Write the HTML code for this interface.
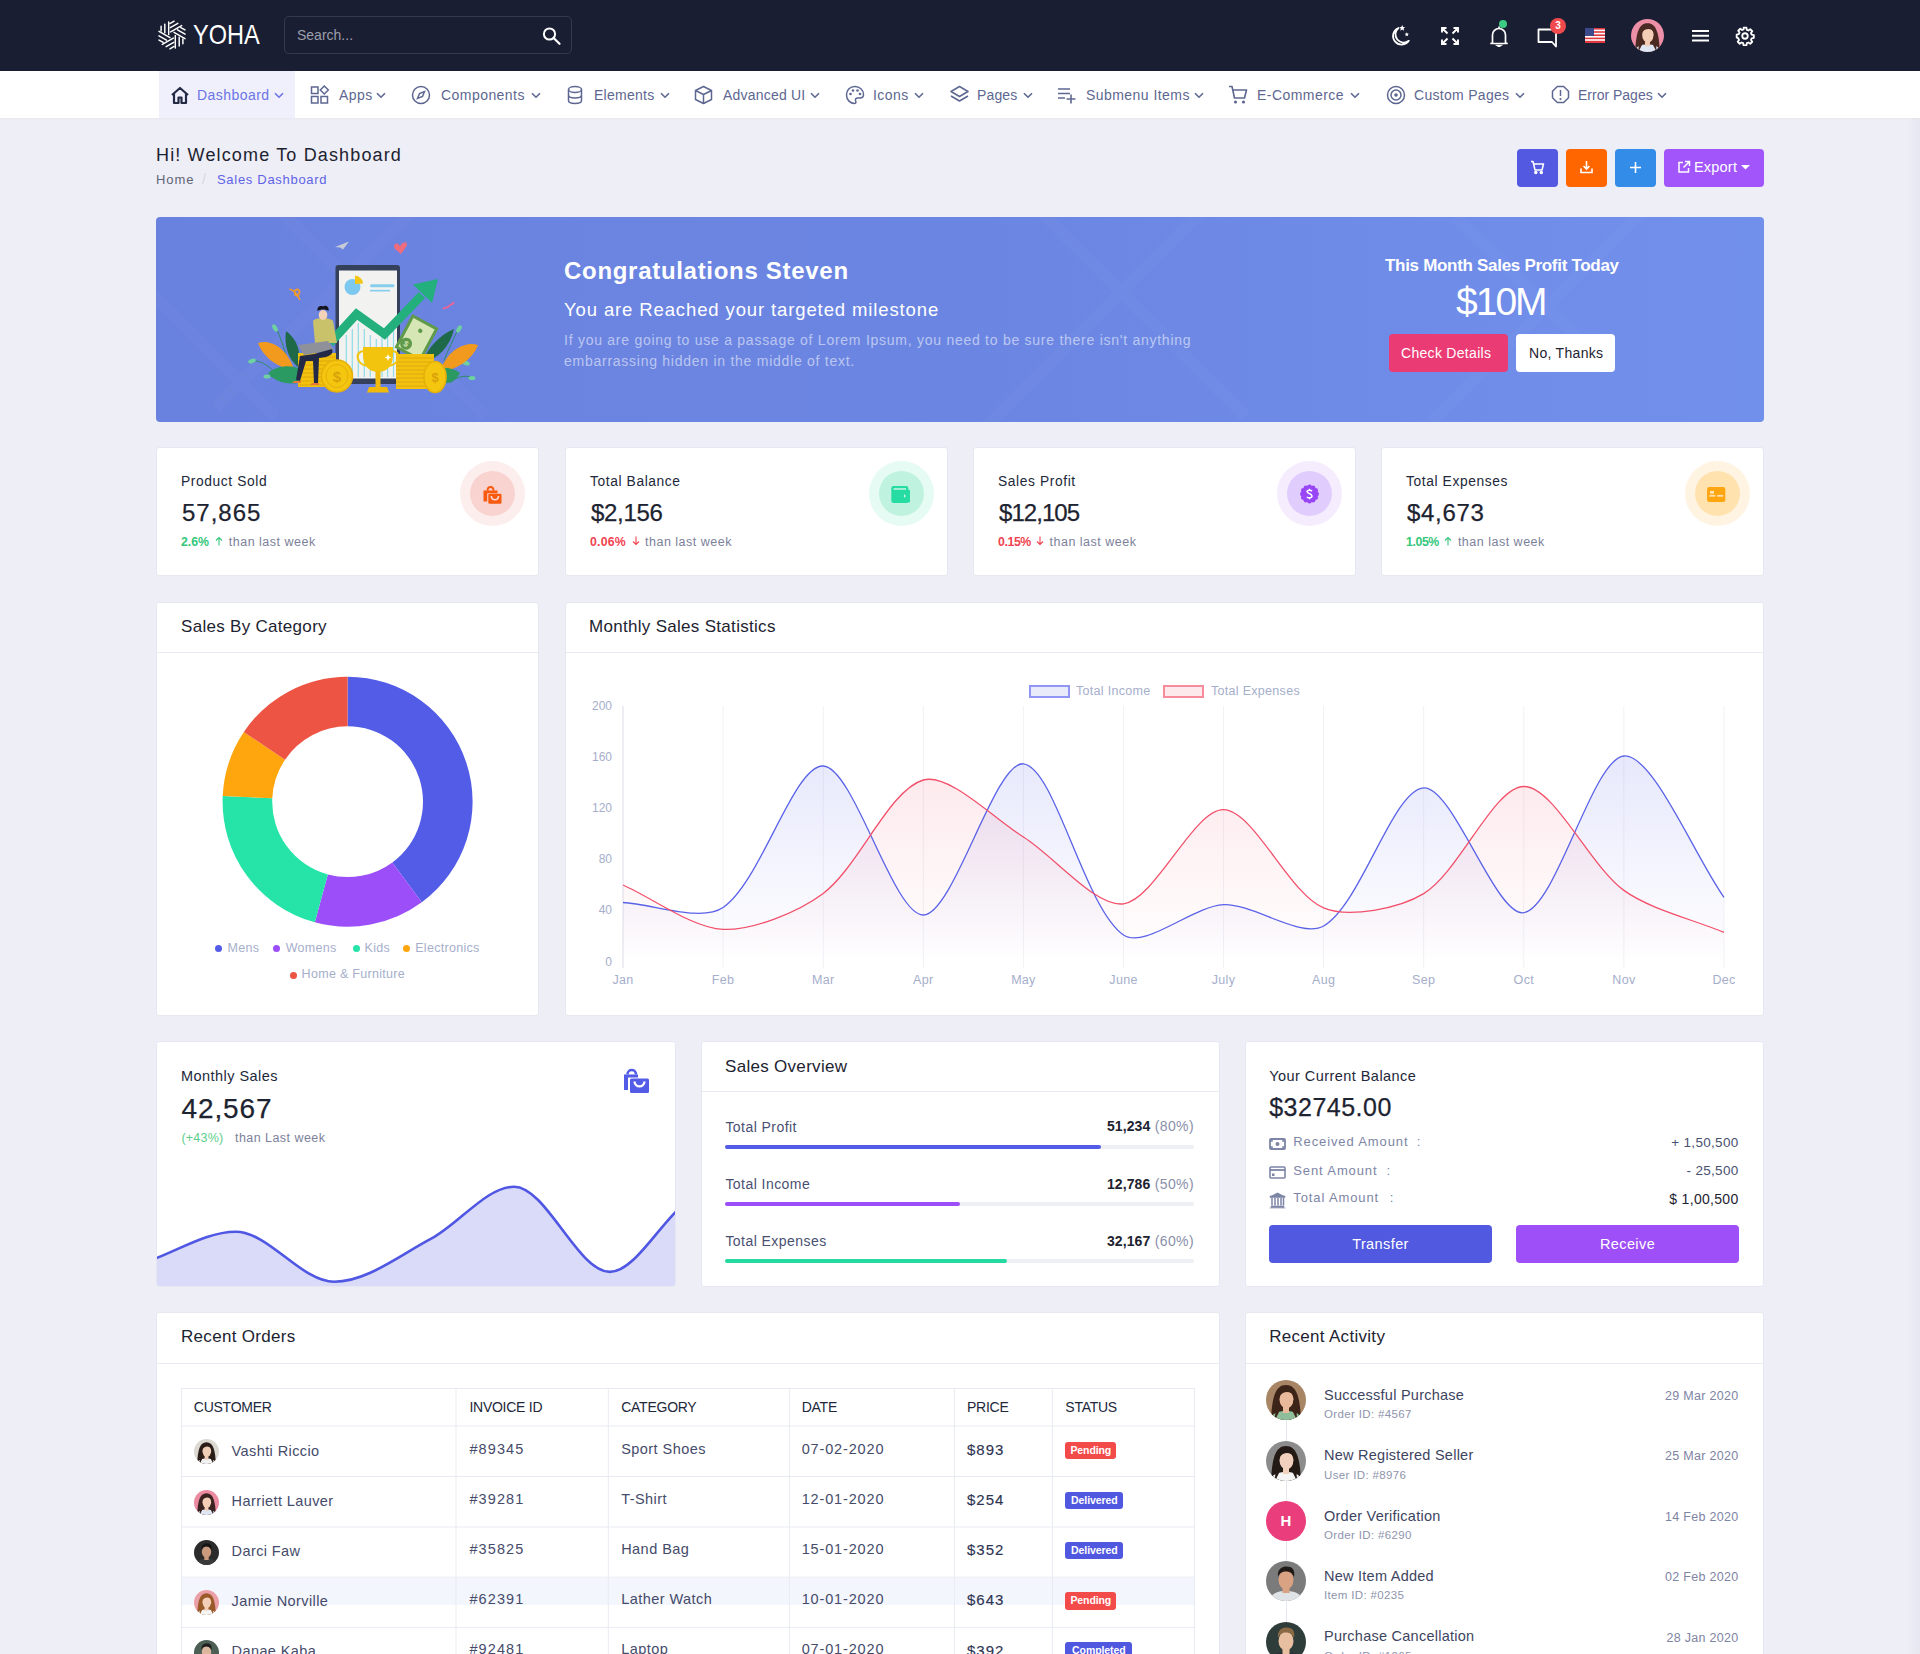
<!DOCTYPE html>
<html><head><meta charset="utf-8">
<style>
*{box-sizing:border-box;margin:0;padding:0}
html,body{width:1920px;height:1654px;overflow:hidden}
body{background:#eeeef6;font-family:"Liberation Sans",sans-serif;color:#1d2330;position:relative}
.abs{position:absolute}
.hdr{position:absolute;left:0;top:0;width:1920px;height:71px;background:#1a1e32}
.nav{position:absolute;left:0;top:71px;width:1920px;height:47px;background:#fff;box-shadow:0 1px 2px rgba(0,0,0,0.03)}
.card{position:absolute;background:#fff;border:1px solid #e6e7f0;border-radius:3px}
.ch{position:absolute;left:0;top:0;right:0;height:50px;border-bottom:1px solid #e9eaf2}
.ct{position:absolute;left:24px;top:16px;font-size:16.5px;color:#1d2330;letter-spacing:0.2px}
.t{position:absolute;white-space:nowrap}
.nt{font-size:14px;line-height:16px;letter-spacing:0.45px}
</style></head><body>
<!-- HEADER -->

<div class="hdr" id="hdr">
 <svg class="abs" style="left:156.4px;top:18.9px" width="32" height="32" viewBox="-16 -16 32 32">
  <g fill="none" stroke="#fff" stroke-width="1.45" stroke-linecap="round">
   <g id="pt"><path d="M-10.9 -8.7 V-3.9 M-7.2 -10.9 V-2.2 M-3.3 -13.1 V-0.4"/></g>
   <use href="#pt" transform="rotate(60)"/><use href="#pt" transform="rotate(120)"/>
   <use href="#pt" transform="rotate(180)"/><use href="#pt" transform="rotate(240)"/><use href="#pt" transform="rotate(300)"/>
  </g>
 </svg>
 <div class="t" id="logo" style="left:193px;top:18px;font-size:28px;color:#fff;letter-spacing:0px;line-height:34px;transform:scaleX(0.84);transform-origin:0 0">YOHA</div>
 <div class="abs" style="left:284px;top:16px;width:288px;height:38px;border:1px solid rgba(255,255,255,0.12);border-radius:5px"></div>
 <div class="t" id="srch" style="left:297px;top:27px;font-size:14px;color:#9c9eab;line-height:16px">Search...</div>
 <svg class="abs" style="left:542px;top:27px" width="20" height="18" viewBox="0 0 20 18"><circle cx="7.5" cy="7" r="5.6" fill="none" stroke="#fff" stroke-width="2"/><path d="M11.6 11 L17.5 16.8" stroke="#fff" stroke-width="2.2" stroke-linecap="round"/></svg>
 <!-- right icons -->
 <svg class="abs" style="left:1389px;top:24px" width="24" height="24" viewBox="0 0 24 24" fill="none" stroke="#fff" stroke-width="1.8"><path d="M9.5 4 A8.6 8.6 0 1 0 19.8 16.8 A8 8 0 0 1 9.5 4 Z" stroke-linejoin="round"/><path d="M13.2 1 l0.9 2 2.1 0.2 -1.6 1.4 0.5 2.1 -1.9 -1.1 -1.9 1.1 0.5 -2.1 -1.6 -1.4 2.1 -0.2z" fill="#fff" stroke="none"/><path d="M17.8 8.2 l0.6 1.4 1.5 0.1 -1.1 1 0.35 1.5 -1.35 -0.8 -1.35 0.8 0.35 -1.5 -1.1 -1 1.5 -0.1z" fill="#fff" stroke="none"/></svg>
 <svg class="abs" style="left:1440.5px;top:26.5px" width="18" height="18" viewBox="0 0 18 18" fill="none" stroke="#fff" stroke-width="1.9"><path d="M1 5.5 V1 H5.5 M1 1 L6.5 6.5 M12.5 1 H17 V5.5 M17 1 L11.5 6.5 M1 12.5 V17 H5.5 M1 17 L6.5 11.5 M17 12.5 V17 H12.5 M17 17 L11.5 11.5"/></svg>
 <svg class="abs" style="left:1489.5px;top:25px" width="18" height="22" viewBox="0 0 18 22" fill="none" stroke="#fff" stroke-width="1.7"><path d="M2.5 17.5 V10 A6.5 6.5 0 0 1 15.5 10 V17.5 L17 18.5 H1 Z" stroke-linejoin="round"/><path d="M7.5 20.5 L9 21.5 L10.5 20.5Z" fill="#fff"/><path d="M9 3 V1.5"/></svg>
 <div class="abs" style="left:1499px;top:19.5px;width:8px;height:8px;border-radius:50%;background:#3dca82"></div>
 <svg class="abs" style="left:1537px;top:27.5px" width="21" height="20" viewBox="0 0 21 20" fill="none" stroke="#fff" stroke-width="1.8"><path d="M1.5 1.5 H19 V18.5 L15 14 H1.5 Z" stroke-linejoin="round"/></svg>
 <div class="abs" style="left:1550px;top:17.5px;width:16px;height:16px;border-radius:50%;background:#f04a4e;color:#fff;font-size:10px;line-height:16px;text-align:center;font-weight:bold">3</div>
 <svg class="abs" style="left:1585px;top:28px" width="20" height="15" viewBox="0 0 20 15">
  <rect width="20" height="15" fill="#fff"/>
  <g fill="#e0383e"><rect y="0" width="20" height="1.6"/><rect y="3.2" width="20" height="1.6"/><rect y="6.4" width="20" height="1.6"/><rect y="9.6" width="20" height="1.6"/><rect y="12.8" width="20" height="2.2"/></g>
  <rect width="9" height="8" fill="#3c4a8c"/>
 </svg>
 <svg class="abs" style="left:1630.5px;top:19.0px" width="33" height="33" viewBox="0 0 40 40"><defs><clipPath id="av"><circle cx="20" cy="20" r="20"/></clipPath></defs><g clip-path="url(#av)"><rect width="40" height="40" fill="#ee8fa8"/><path d="M5 40 C6 18 9 5 20 5 C31 5 34 18 35 40Z" fill="#4a2a22"/><path d="M4 40 C6 33 12 31 20 31 C28 31 34 33 36 40Z" fill="#dfe7f5"/><rect x="17" y="26" width="6" height="7" fill="#f3cdb5"/><ellipse cx="20.5" cy="19.5" rx="7" ry="9" fill="#f3cdb5"/><path d="M12.5 17 C13 9 18 8 21 8 C26 8 29 11 28.5 17 C26 12 21 11 17 13 C15 14 13.5 16 12.5 17Z" fill="#4a2a22"/><path d="M9 40 C9 30 11 24 13 20 L14 30Z M31 40 C31 30 29 24 27.5 20 L26 30Z" fill="#4a2a22"/></g></svg>
 <svg class="abs" style="left:1692px;top:29.8px" width="17" height="12.5" viewBox="0 0 17 12.5" stroke="#fff" stroke-width="2"><path d="M0 1 H17 M0 5.7 H17 M0 10.4 H17"/></svg>
 <svg class="abs" style="left:1735px;top:25.5px" width="20" height="20" viewBox="0 0 24 24" fill="none" stroke="#fff" stroke-width="2.2"><path d="M10.3 2h3.4l.5 2.6 1.9.8 2.2-1.5 2.4 2.4-1.5 2.2.8 1.9 2.6.5v3.4l-2.6.5-.8 1.9 1.5 2.2-2.4 2.4-2.2-1.5-1.9.8-.5 2.6h-3.4l-.5-2.6-1.9-.8-2.2 1.5-2.4-2.4 1.5-2.2-.8-1.9L2 13.7v-3.4l2.6-.5.8-1.9-1.5-2.2 2.4-2.4 2.2 1.5 1.9-.8z" stroke-linejoin="round"/><circle cx="12" cy="12" r="3.3"/></svg>
</div>

<div class="nav" id="nav"></div>
<div class="abs" style="left:159px;top:71px;width:136px;height:47px;background:#eff0fb"></div>
<svg class="abs" style="left:169px;top:85px" width="21" height="21" viewBox="0 0 21 21"><path d="M3 10 L11 3 L19 10 M5 8.5 V18 H9.5 V12.5 H12.5 V18 H17 V8.5" fill="none" stroke="#232a45" stroke-width="2.2" stroke-linejoin="round"/></svg>
<div class="t nt" style="left:197px;top:87px;color:#6c74e6">Dashboard</div>
<svg class="abs" style="left:274px;top:92px" width="10" height="7" viewBox="0 0 10 7"><path d="M1 1.2 L5 5.2 L9 1.2" fill="none" stroke="#6c74e6" stroke-width="1.6"/></svg>
<svg class="abs" style="left:310px;top:85px" width="21" height="21" viewBox="0 0 21 21"><g fill="none" stroke="#5d6791" stroke-width="1.5"><rect x="1.5" y="2" width="6.5" height="6.5"/><rect x="1.5" y="11.5" width="6.5" height="6.5"/><rect x="11" y="11.5" width="6.5" height="6.5"/><path d="M14.3 1 L18.3 5 L14.3 9 L10.3 5Z"/></g></svg>
<div class="t nt" style="left:339px;top:87px;color:#5d6791">Apps</div>
<svg class="abs" style="left:376px;top:92px" width="10" height="7" viewBox="0 0 10 7"><path d="M1 1.2 L5 5.2 L9 1.2" fill="none" stroke="#5d6791" stroke-width="1.6"/></svg>
<svg class="abs" style="left:411px;top:85px" width="21" height="21" viewBox="0 0 21 21"><g fill="none" stroke="#5d6791" stroke-width="1.5"><circle cx="10" cy="10" r="8.5"/><path d="M13.5 6.5 L11.5 11.5 L6.5 13.5 L8.5 8.5Z"/></g></svg>
<div class="t nt" style="left:441px;top:87px;color:#5d6791">Components</div>
<svg class="abs" style="left:531px;top:92px" width="10" height="7" viewBox="0 0 10 7"><path d="M1 1.2 L5 5.2 L9 1.2" fill="none" stroke="#5d6791" stroke-width="1.6"/></svg>
<svg class="abs" style="left:566px;top:85px" width="21" height="21" viewBox="0 0 21 21"><g fill="none" stroke="#5d6791" stroke-width="1.5"><ellipse cx="9" cy="4.5" rx="6.5" ry="3"/><path d="M2.5 4.5 V15.5 C2.5 19.5 15.5 19.5 15.5 15.5 V4.5 M2.5 10 C2.5 14 15.5 14 15.5 10"/></g></svg>
<div class="t nt" style="left:594px;top:87px;color:#5d6791;letter-spacing:0.27px">Elements</div>
<svg class="abs" style="left:660px;top:92px" width="10" height="7" viewBox="0 0 10 7"><path d="M1 1.2 L5 5.2 L9 1.2" fill="none" stroke="#5d6791" stroke-width="1.6"/></svg>
<svg class="abs" style="left:694px;top:85px" width="21" height="21" viewBox="0 0 21 21"><g fill="none" stroke="#5d6791" stroke-width="1.5" stroke-linejoin="round"><path d="M9.5 1.5 L17.5 5.5 V14.5 L9.5 18.5 L1.5 14.5 V5.5Z M1.5 5.5 L9.5 9.5 L17.5 5.5 M9.5 9.5 V18.5"/></g></svg>
<div class="t nt" style="left:723px;top:87px;color:#5d6791;letter-spacing:0.2px">Advanced UI</div>
<svg class="abs" style="left:810px;top:92px" width="10" height="7" viewBox="0 0 10 7"><path d="M1 1.2 L5 5.2 L9 1.2" fill="none" stroke="#5d6791" stroke-width="1.6"/></svg>
<svg class="abs" style="left:845px;top:85px" width="21" height="21" viewBox="0 0 21 21"><g fill="none" stroke="#5d6791" stroke-width="1.5"><path d="M10 1.5 C4.5 1.5 1.5 5.5 1.5 10 C1.5 15 5.5 18.5 9.5 18.5 C11.5 18.5 11 16.5 10.5 15.5 C10 14 11 13 12.5 13 H15 C17 13 18.5 11.5 18.5 9.5 C18.5 5 14.5 1.5 10 1.5Z"/></g><g fill="#5d6791"><circle cx="5.5" cy="9" r="1.3"/><circle cx="8" cy="5.5" r="1.3"/><circle cx="12.5" cy="5.5" r="1.3"/><circle cx="15" cy="9" r="1.3"/></g></svg>
<div class="t nt" style="left:873px;top:87px;color:#5d6791">Icons</div>
<svg class="abs" style="left:914px;top:92px" width="10" height="7" viewBox="0 0 10 7"><path d="M1 1.2 L5 5.2 L9 1.2" fill="none" stroke="#5d6791" stroke-width="1.6"/></svg>
<svg class="abs" style="left:950px;top:85px" width="21" height="21" viewBox="0 0 21 21"><g fill="none" stroke="#5d6791" stroke-width="1.5" stroke-linejoin="round"><path d="M9.5 1.5 L18 6.5 L9.5 11.5 L1 6.5Z M1 11 L9.5 16 L18 11"/></g></svg>
<div class="t nt" style="left:977px;top:87px;color:#5d6791;letter-spacing:0.15px">Pages</div>
<svg class="abs" style="left:1023px;top:92px" width="10" height="7" viewBox="0 0 10 7"><path d="M1 1.2 L5 5.2 L9 1.2" fill="none" stroke="#5d6791" stroke-width="1.6"/></svg>
<svg class="abs" style="left:1057px;top:85px" width="21" height="21" viewBox="0 0 21 21"><g fill="none" stroke="#5d6791" stroke-width="1.6"><path d="M1 4 H13 M1 8.5 H13 M1 13 H8 M14 9.5 V18.5 M9.5 14 H18.5"/></g></svg>
<div class="t nt" style="left:1086px;top:87px;color:#5d6791">Submenu Items</div>
<svg class="abs" style="left:1194px;top:92px" width="10" height="7" viewBox="0 0 10 7"><path d="M1 1.2 L5 5.2 L9 1.2" fill="none" stroke="#5d6791" stroke-width="1.6"/></svg>
<svg class="abs" style="left:1228px;top:85px" width="21" height="21" viewBox="0 0 21 21"><g fill="none" stroke="#5d6791" stroke-width="1.6" stroke-linejoin="round"><path d="M1 1.5 H4 L6.5 13 H16.5 L18.5 5 H5"/></g><g fill="#5d6791"><circle cx="7.5" cy="17" r="1.6"/><circle cx="15.5" cy="17" r="1.6"/></g></svg>
<div class="t nt" style="left:1257px;top:87px;color:#5d6791">E-Commerce</div>
<svg class="abs" style="left:1350px;top:92px" width="10" height="7" viewBox="0 0 10 7"><path d="M1 1.2 L5 5.2 L9 1.2" fill="none" stroke="#5d6791" stroke-width="1.6"/></svg>
<svg class="abs" style="left:1386px;top:85px" width="21" height="21" viewBox="0 0 21 21"><g fill="none" stroke="#5d6791" stroke-width="1.5"><circle cx="10" cy="10" r="8.5"/><circle cx="10" cy="10" r="5"/></g><circle cx="10" cy="10" r="1.8" fill="#5d6791"/></svg>
<div class="t nt" style="left:1414px;top:87px;color:#5d6791;letter-spacing:0.3px">Custom Pages</div>
<svg class="abs" style="left:1515px;top:92px" width="10" height="7" viewBox="0 0 10 7"><path d="M1 1.2 L5 5.2 L9 1.2" fill="none" stroke="#5d6791" stroke-width="1.6"/></svg>
<svg class="abs" style="left:1551px;top:85px" width="21" height="21" viewBox="0 0 21 21"><g fill="none" stroke="#5d6791" stroke-width="1.5" stroke-linejoin="round"><path d="M6.3 1.5 H12.7 L17.5 6.3 V12.7 L12.7 17.5 H6.3 L1.5 12.7 V6.3Z"/><path d="M9.5 5 V11"/></g><circle cx="9.5" cy="14" r="1.1" fill="#5d6791"/></svg>
<div class="t nt" style="left:1578px;top:87px;color:#5d6791;letter-spacing:0.0px">Error Pages</div>
<svg class="abs" style="left:1657px;top:92px" width="10" height="7" viewBox="0 0 10 7"><path d="M1 1.2 L5 5.2 L9 1.2" fill="none" stroke="#5d6791" stroke-width="1.6"/></svg>

<!-- PAGE HEADER -->
<div class="t" id="ptitle" style="left:156px;top:145px;font-size:18px;line-height:21px;color:#1d2330;letter-spacing:1.15px">Hi! Welcome To Dashboard</div>
<div class="t" style="left:156px;top:172px;font-size:13px;line-height:15px;color:#5f6478;letter-spacing:0.95px">Home</div>
<div class="t" style="left:202px;top:171px;font-size:14px;line-height:16px;color:#d6d8e2">/</div>
<div class="t" style="left:217px;top:172px;font-size:13px;line-height:15px;color:#5f63e6;letter-spacing:0.7px">Sales Dashboard</div>
<div class="abs" style="left:1517px;top:149px;width:41px;height:38px;background:#5359e0;border-radius:4px"></div>
<svg class="abs" style="left:1530px;top:160px" width="15" height="15" viewBox="0 0 15 15" fill="none" stroke="#fff" stroke-width="1.5" stroke-linejoin="round"><path d="M1 1.5 H3 L5 10 H12 L13.5 4 H4"/><circle cx="5.8" cy="12.5" r="1" fill="#fff"/><circle cx="11.3" cy="12.5" r="1" fill="#fff"/></svg>
<div class="abs" style="left:1566px;top:149px;width:41px;height:38px;background:#ff6600;border-radius:4px"></div>
<svg class="abs" style="left:1579px;top:160px" width="15" height="15" viewBox="0 0 15 15" fill="none" stroke="#fff" stroke-width="1.6"><path d="M7.5 1 V8.5 M4.5 6 L7.5 9 L10.5 6 M2 8.5 V12.5 H13 V8.5"/></svg>
<div class="abs" style="left:1615px;top:149px;width:41px;height:38px;background:#328ce8;border-radius:4px"></div>
<svg class="abs" style="left:1629px;top:161px" width="13" height="13" viewBox="0 0 13 13" stroke="#fff" stroke-width="1.6"><path d="M6.5 1 V12 M1 6.5 H12"/></svg>
<div class="abs" style="left:1664px;top:149px;width:100px;height:38px;background:#a155fb;border-radius:4px"></div>
<svg class="abs" style="left:1677px;top:160px" width="14" height="14" viewBox="0 0 14 14" fill="none" stroke="#fff" stroke-width="1.5"><path d="M6 2.5 H2 V12 H11.5 V8 M8 1.5 H12.5 V6 M12.5 1.5 L6.5 7.5"/></svg>
<div class="t" style="left:1694px;top:159px;font-size:14.5px;line-height:17px;color:#fff;letter-spacing:0.2px">Export</div>
<svg class="abs" style="left:1741px;top:165px" width="9" height="5" viewBox="0 0 9 5"><path d="M0 0 H9 L4.5 4.5Z" fill="#fff"/></svg>


<!-- BANNER -->
<div class="abs" style="left:156px;top:217px;width:1608px;height:205px;border-radius:4px;overflow:hidden;background:linear-gradient(90deg,#6a82df 0%,#6b86e2 50%,#7190ec 100%)">
 <svg class="abs" style="left:0;top:0" width="1608" height="205">
  <g stroke="rgba(255,255,255,0.025)" stroke-width="12" fill="none">
   <path d="M-40 40 L120 200 M120 -10 L330 200 M270 -20 L60 190 M880 -10 L1090 200 M1050 -10 L780 260 M1300 0 L1450 150 M1500 -20 L1260 220"/>
  </g>
 </svg>
 <!-- illustration -->
 <svg class="abs" style="left:86px;top:20px" width="250" height="180" viewBox="0 0 250 180">
  <path d="M93 10 L107 4.5 L101 12.5 L98 10.5 Z" fill="#c7cbd6"/>
  <path d="M158 9 C155 4 150 7 153 12 L159 17 L164 10 C167 5 162 3 158 9Z" fill="#ef6b7e"/>
  <path d="M47.5 52 C51 53 55 56 58 63 M52 55 C54 51 59 52 57 57 C55 60 52 58 53 56" stroke="#f2982f" stroke-width="1.8" fill="none"/>
  <path d="M201 72 C204 69 205 72 207 69 C209 66 210 69 212 65" stroke="#e9659a" stroke-width="1.8" fill="none"/>
  <!-- sprouts -->
  <path d="M8 124 C18 122 30 130 38 142 M34 90 C38 100 42 110 45 122 M24 140 C30 138 38 140 44 146" stroke="#2f8a6a" stroke-width="1" fill="none"/>
  <ellipse cx="10" cy="124" rx="4" ry="2.2" fill="#6fd0a0" transform="rotate(-20 10 124)"/>
  <ellipse cx="33" cy="91" rx="2.2" ry="4" fill="#6fd0a0" transform="rotate(-30 33 91)"/>
  <ellipse cx="25" cy="139.5" rx="3.5" ry="2" fill="#6fd0a0"/>
  <path d="M222 126 C212 124 202 132 196 140 M216 92 C212 102 206 112 202 124 M230 140 C222 138 214 140 208 146" stroke="#2f8a6a" stroke-width="1" fill="none"/>
  <ellipse cx="224" cy="126" rx="4" ry="2.2" fill="#6fd0a0" transform="rotate(20 224 126)"/>
  <ellipse cx="217" cy="92" rx="2.2" ry="4" fill="#6fd0a0" transform="rotate(30 217 92)"/>
  <ellipse cx="230" cy="141" rx="3.5" ry="2" fill="#6fd0a0"/>
  <!-- leaves -->
  <path d="M16 106 C28 102 44 110 52 132 C38 132 22 122 16 106Z" fill="#f19a1e"/>
  <path d="M44 94 C55 102 60 115 56 130 C46 122 42 108 44 94Z" fill="#1e6a48"/>
  <path d="M26 136 C36 128 50 128 58 132 L56 146 C44 148 32 144 26 136Z" fill="#2b9a62"/>
  <path d="M236 108 C224 104 206 112 198 134 C212 134 230 124 236 108Z" fill="#f19a1e"/>
  <path d="M212 92 C198 98 186 110 180 126 C196 122 208 110 212 92Z" fill="#1e6a48"/>
  <path d="M218 136 C210 130 200 130 194 132 L196 146 C206 148 214 144 218 136Z" fill="#2b9a62"/>
  <!-- phone -->
  <rect x="93.5" y="28" width="64.5" height="119" rx="3" fill="#35405a"/>
  <rect x="97" y="33.5" width="58" height="108" fill="#f2f3f1"/>
  <circle cx="110.5" cy="50" r="8" fill="#7cc8ee"/>
  <path d="M113 47 V38.5 A8.5 8.5 0 0 1 121 46.5Z" fill="#f3c514"/>
  <rect x="128" y="47.3" width="24.5" height="3" rx="1.5" fill="#86cdee"/><rect x="128" y="52.8" width="20" height="1.7" fill="#86cdee"/>
  <g stroke="#8fdbe6" stroke-width="1.2"><path d="M104.3 140 V98 M110.3 140 V92 M116.3 140 V86 M122.3 140 V92 M128.3 140 V98 M134.3 140 V102 M140 140 V96 M145.6 140 V90 M151.5 140 V84"/></g>
  <!-- arrow -->
  <path d="M88 106 L114.5 77 L142.5 97 L180 58" stroke="#23b07d" stroke-width="8.8" fill="none" stroke-linejoin="miter" stroke-miterlimit="10"/>
  <path d="M171 47.5 L196 42 L190 66 Z" fill="#23b07d"/>
  <!-- bill -->
  <g transform="rotate(28 175 100)"><rect x="160" y="82" width="30" height="38" rx="1" fill="#5e9a4a"/><rect x="163" y="85" width="24" height="32" fill="#d6e6b4"/><circle cx="175" cy="93" r="2.2" fill="#5e9a4a"/><circle cx="168.5" cy="111" r="6" fill="#5e9a4a"/><text x="168.5" y="114" font-size="8" text-anchor="middle" fill="#d6e6b4" font-family="Liberation Sans" font-weight="bold">$</text></g>
  <!-- coins left -->
  <path d="M56 116 H94 V150 H56Z" fill="#f2c20f"/>
  <g stroke="#dba50b" stroke-width="0.9"><path d="M56 120 H94 M56 124 H94 M56 128 H94 M56 132 H94 M56 136 H94 M56 140 H94 M56 144 H94 M56 148 H94"/></g>
  <ellipse cx="95" cy="139" rx="15.5" ry="16" fill="#f5c60f" stroke="#e5b00a" stroke-width="1.6"/>
  <ellipse cx="95" cy="139" rx="11" ry="11.5" fill="none" stroke="#e5b00a" stroke-width="1"/>
  <text x="95" y="144.5" font-size="15" text-anchor="middle" fill="#d9a20a" font-family="Liberation Sans" font-weight="bold">$</text>
  <!-- coins right -->
  <path d="M154 117 H192 V152 H154Z" fill="#f2c20f"/>
  <g stroke="#dba50b" stroke-width="0.9"><path d="M154 121 H192 M154 125 H192 M154 129 H192 M154 133 H192 M154 137 H192 M154 141 H192 M154 145 H192 M154 149 H192"/></g>
  <ellipse cx="193" cy="140" rx="11" ry="15.5" fill="#f5c60f" stroke="#e5b00a" stroke-width="1.6"/>
  <text x="193" y="145" font-size="13" text-anchor="middle" fill="#d9a20a" font-family="Liberation Sans" font-weight="bold">$</text>
  <!-- trophy -->
  <path d="M121 110 H151 V118 C151 130 144 135 136 135 C128 135 121 130 121 118Z" fill="#f3c40e"/>
  <path d="M122 114 C112 114 114 128 126 129 M150 114 C160 114 158 128 146 129" stroke="#f3c40e" stroke-width="2.2" fill="none"/>
  <rect x="133.5" y="134" width="5" height="16" fill="#f0b90b"/><path d="M127 150 H145 L147 155.5 H125Z" fill="#f0b90b"/>
  <path d="M146 117 l1 2.5 2.5 1 -2.5 1 -1 2.5 -1 -2.5 -2.5 -1 2.5 -1z" fill="#fff"/>
  <!-- person -->
  <path d="M71 84 C73 80 88 80 91 84 L95 106 H73Z" fill="#c9c26a"/>
  <ellipse cx="81" cy="78" rx="4.3" ry="5" fill="#f4d2b8"/>
  <path d="M75.5 74 C75 69 79 68.5 81 69.5 C83 68 87.5 69 86.5 74 C84 72 78 72 75.5 74Z" fill="#15151f"/>
  <path d="M56 108 L86 104 L92 113 L62 118Z" fill="#8e919a"/>
  <path d="M90 112 L72 117 L58 119 L54 143 L58 144 L64 124 L71 124 L72 146 L76 146 L77 121 C88 120 92 117 90 112Z" fill="#222a48"/>
  <path d="M52 144 L59 144 L59 146 L50 146Z M70 146 L77 146 L77 148 L68 148Z" fill="#e6793a"/>
 </svg>
 <div class="t" id="congr" style="left:408px;top:40px;font-size:24px;line-height:28px;font-weight:bold;color:#fff;letter-spacing:0.7px">Congratulations Steven</div>
 <div class="t" id="reach" style="left:408px;top:82px;font-size:18.5px;line-height:22px;color:#fff;letter-spacing:0.88px">You are Reached your targeted milestone</div>
 <div class="abs" id="para" style="left:408px;top:113px;width:700px;font-size:14px;line-height:20.5px;color:rgba(255,255,255,0.55);letter-spacing:0.74px">If you are going to use a passage of Lorem Ipsum, you need to be sure there isn't anything<br>embarrassing hidden in the middle of text.</div>
 <div class="t" id="tmsp" style="left:1229px;top:39px;font-size:17px;line-height:20px;font-weight:bold;color:#fff;letter-spacing:-0.3px">This Month Sales Profit Today</div>
 <div class="t" id="tenm" style="left:1300px;top:62px;font-size:39px;line-height:46px;color:#fff;font-weight:normal;letter-spacing:-2px">$10M</div>
 <div class="abs" style="left:1233px;top:117px;width:119px;height:38px;border-radius:4px;background:#eb3b75"></div>
 <div class="t" style="left:1245px;top:128px;font-size:14px;line-height:16px;color:#fff;letter-spacing:0.3px">Check Details</div>
 <div class="abs" style="left:1360px;top:117px;width:99px;height:38px;border-radius:4px;background:#fff"></div>
 <div class="t" style="left:1373px;top:128px;font-size:14px;line-height:16px;color:#1d2330;letter-spacing:0.3px">No, Thanks</div>
</div>

<!-- STAT CARDS -->
<div class="card" style="left:156px;top:447px;width:383px;height:129px"></div>
<div class="abs" style="left:460.0px;top:461px;width:65px;height:65px;border-radius:50%;background:#fdeeee"></div>
<div class="abs" style="left:470.0px;top:471px;width:45px;height:45px;border-radius:50%;background:#f8d3cf"></div>
<svg class="abs" style="left:483px;top:484.5px" width="19" height="19" viewBox="0 0 19 19"><path d="M0.5 5.5 H14.5 V8.2 H4.2 V16.5 H0.5Z" fill="#f95a10"/><path d="M4.5 5.8 C4.5 0.8 10.5 0.8 10.5 5.8" stroke="#f95a10" stroke-width="2" fill="none"/><rect x="5.3" y="8.8" width="13.2" height="10" rx="1.2" fill="#f95a10"/><path d="M8.3 11 C8.6 16 15.2 16 15.5 11" stroke="#f8d3cf" stroke-width="1.7" fill="none"/></svg>
<div class="t" id="st_156" style="left:181px;top:473.25px;font-size:13.8px;line-height:17px;color:#22283a;font-weight:normal;letter-spacing:0.6px;">Product Sold</div>
<div class="t" id="sv_156" style="left:182px;top:497.88px;font-size:24px;line-height:29px;color:#1d2330;font-weight:normal;letter-spacing:1.0px;-webkit-text-stroke:0.25px #1d2330;">57,865</div>
<div class="t" id="sp_156" style="left:181px;top:535.34px;font-size:12.3px;line-height:14px;color:#34c77b;font-weight:bold;letter-spacing:0.0px;">2.6%</div>
<svg class="abs" style="left:215px;top:536px" width="8" height="10" viewBox="0 0 8 10"><path d="M4 9.5 V1.5 M1 4.5 L4 1.5 L7 4.5" stroke="#34c77b" stroke-width="1.1" fill="none"/></svg>
<div class="t" id="sl_156" style="left:228.75px;top:534.67px;font-size:12.5px;line-height:15px;color:#7c819b;font-weight:normal;letter-spacing:0.5px;">than last week</div>
<div class="card" style="left:565px;top:447px;width:383px;height:129px"></div>
<div class="abs" style="left:869.0px;top:461px;width:65px;height:65px;border-radius:50%;background:#e6fbf3"></div>
<div class="abs" style="left:879.0px;top:471px;width:45px;height:45px;border-radius:50%;background:#bff3df"></div>
<svg class="abs" style="left:891px;top:484px" width="21" height="20" viewBox="0 0 21 20"><rect x="0.3" y="2.1" width="17" height="16.8" rx="2.2" fill="#27dca2"/><rect x="14" y="5.8" width="5" height="12.6" rx="1.2" fill="#27dca2"/><rect x="2.6" y="4.2" width="12.4" height="1.5" fill="#c8f5e4"/><rect x="12.9" y="10.6" width="1.5" height="2.8" fill="#c8f5e4"/></svg>
<div class="t" id="st_565" style="left:590px;top:473.25px;font-size:13.8px;line-height:17px;color:#22283a;font-weight:normal;letter-spacing:0.6px;">Total Balance</div>
<div class="t" id="sv_565" style="left:591px;top:497.88px;font-size:24px;line-height:29px;color:#1d2330;font-weight:normal;letter-spacing:-0.3px;-webkit-text-stroke:0.25px #1d2330;">$2,156</div>
<div class="t" id="sp_565" style="left:590px;top:535.34px;font-size:12.3px;line-height:14px;color:#f1434f;font-weight:bold;letter-spacing:0.2px;">0.06%</div>
<svg class="abs" style="left:631.7px;top:536px" width="8" height="10" viewBox="0 0 8 10"><path d="M4 0.5 V8.5 M1 5.5 L4 8.5 L7 5.5" stroke="#f1434f" stroke-width="1.1" fill="none"/></svg>
<div class="t" id="sl_565" style="left:645px;top:534.67px;font-size:12.5px;line-height:15px;color:#7c819b;font-weight:normal;letter-spacing:0.5px;">than last week</div>
<div class="card" style="left:973px;top:447px;width:383px;height:129px"></div>
<div class="abs" style="left:1277.0px;top:461px;width:65px;height:65px;border-radius:50%;background:#f5ecfe"></div>
<div class="abs" style="left:1287.0px;top:471px;width:45px;height:45px;border-radius:50%;background:#e1cdfd"></div>
<svg class="abs" style="left:1299.0px;top:484px" width="21" height="20" viewBox="0 0 21 20"><circle cx="17.70" cy="10.00" r="2.3" fill="#9846f6"/><circle cx="16.74" cy="13.60" r="2.3" fill="#9846f6"/><circle cx="14.10" cy="16.24" r="2.3" fill="#9846f6"/><circle cx="10.50" cy="17.20" r="2.3" fill="#9846f6"/><circle cx="6.90" cy="16.24" r="2.3" fill="#9846f6"/><circle cx="4.26" cy="13.60" r="2.3" fill="#9846f6"/><circle cx="3.30" cy="10.00" r="2.3" fill="#9846f6"/><circle cx="4.26" cy="6.40" r="2.3" fill="#9846f6"/><circle cx="6.90" cy="3.76" r="2.3" fill="#9846f6"/><circle cx="10.50" cy="2.80" r="2.3" fill="#9846f6"/><circle cx="14.10" cy="3.76" r="2.3" fill="#9846f6"/><circle cx="16.74" cy="6.40" r="2.3" fill="#9846f6"/><circle cx="10.5" cy="10" r="7.3" fill="#9846f6"/><path d="M13 7.2 C12 5.9 8 5.8 8.1 7.8 C8.2 9.8 13 9.4 13 12.1 C13 14.3 8.8 14.2 7.9 12.8 M10.5 4.8 V6 M10.5 14.2 V15.3" stroke="#fff" stroke-width="1.5" fill="none"/></svg>
<div class="t" id="st_973" style="left:998px;top:473.25px;font-size:13.8px;line-height:17px;color:#22283a;font-weight:normal;letter-spacing:0.6px;">Sales Profit</div>
<div class="t" id="sv_973" style="left:999px;top:497.88px;font-size:24px;line-height:29px;color:#1d2330;font-weight:normal;letter-spacing:-0.95px;-webkit-text-stroke:0.25px #1d2330;">$12,105</div>
<div class="t" id="sp_973" style="left:998px;top:535.34px;font-size:12.3px;line-height:14px;color:#f1434f;font-weight:bold;letter-spacing:-0.4px;">0.15%</div>
<svg class="abs" style="left:1036px;top:536px" width="8" height="10" viewBox="0 0 8 10"><path d="M4 0.5 V8.5 M1 5.5 L4 8.5 L7 5.5" stroke="#f1434f" stroke-width="1.1" fill="none"/></svg>
<div class="t" id="sl_973" style="left:1049.5px;top:534.67px;font-size:12.5px;line-height:15px;color:#7c819b;font-weight:normal;letter-spacing:0.5px;">than last week</div>
<div class="card" style="left:1381px;top:447px;width:383px;height:129px"></div>
<div class="abs" style="left:1685.0px;top:461px;width:65px;height:65px;border-radius:50%;background:#fff4e2"></div>
<div class="abs" style="left:1695.0px;top:471px;width:45px;height:45px;border-radius:50%;background:#ffe2ae"></div>
<svg class="abs" style="left:1707px;top:484px" width="21" height="20" viewBox="0 0 21 20"><rect x="0.1" y="3" width="18.2" height="15" rx="2" fill="#ffa510"/><rect x="3" y="6.9" width="4" height="2.8" fill="#ffe2ae"/><rect x="2.4" y="10.9" width="6" height="1.8" fill="#ffe2ae"/><rect x="10.2" y="10.9" width="6" height="1.8" fill="#ffe2ae"/></svg>
<div class="t" id="st_1381" style="left:1406px;top:473.25px;font-size:13.8px;line-height:17px;color:#22283a;font-weight:normal;letter-spacing:0.6px;">Total Expenses</div>
<div class="t" id="sv_1381" style="left:1407px;top:497.88px;font-size:24px;line-height:29px;color:#1d2330;font-weight:normal;letter-spacing:0.7px;-webkit-text-stroke:0.25px #1d2330;">$4,673</div>
<div class="t" id="sp_1381" style="left:1406px;top:535.34px;font-size:12.3px;line-height:14px;color:#34c77b;font-weight:bold;letter-spacing:-0.4px;">1.05%</div>
<svg class="abs" style="left:1444.4px;top:536px" width="8" height="10" viewBox="0 0 8 10"><path d="M4 9.5 V1.5 M1 4.5 L4 1.5 L7 4.5" stroke="#34c77b" stroke-width="1.1" fill="none"/></svg>
<div class="t" id="sl_1381" style="left:1457.9px;top:534.67px;font-size:12.5px;line-height:15px;color:#7c819b;font-weight:normal;letter-spacing:0.5px;">than last week</div>
<!-- ROW 2 -->
<div class="card" style="left:156px;top:602px;width:383px;height:414px"><div class="ch"></div></div>
<div class="t" id="sbc" style="left:181px;top:616.81px;font-size:17px;line-height:20px;color:#1d2330;font-weight:normal;letter-spacing:0.3px;">Sales By Category</div>
<svg class="abs" style="left:0;top:0;overflow:visible" width="1" height="1"><path d="M347.60 676.70 A125 125 0 0 1 421.78 902.31 L392.34 862.39 A75.4 75.4 0 0 0 347.60 726.30Z" fill="#535ce6"/><path d="M421.78 902.31 A125 125 0 0 1 314.83 922.33 L327.83 874.46 A75.4 75.4 0 0 0 392.34 862.39Z" fill="#9c4ef8"/><path d="M314.83 922.33 A125 125 0 0 1 222.73 796.03 L272.28 798.28 A75.4 75.4 0 0 0 327.83 874.46Z" fill="#26e4a8"/><path d="M222.73 796.03 A125 125 0 0 1 243.85 731.98 L285.02 759.65 A75.4 75.4 0 0 0 272.28 798.28Z" fill="#ffa50d"/><path d="M243.85 731.98 A125 125 0 0 1 347.60 676.70 L347.60 726.30 A75.4 75.4 0 0 0 285.02 759.65Z" fill="#ed5444"/></svg>
<div class="abs" style="left:215.4px;top:945.1px;width:7px;height:7px;border-radius:50%;background:#535ce6"></div>
<div class="t" id="lg_Mens" style="left:227.5px;top:940.67px;font-size:12.5px;line-height:15px;color:#a5aecb;font-weight:normal;letter-spacing:0.3px;">Mens</div>
<div class="abs" style="left:273.1px;top:945.1px;width:7px;height:7px;border-radius:50%;background:#9c4ef8"></div>
<div class="t" id="lg_Wome" style="left:285.7px;top:940.67px;font-size:12.5px;line-height:15px;color:#a5aecb;font-weight:normal;letter-spacing:0.3px;">Womens</div>
<div class="abs" style="left:352.5px;top:945.1px;width:7px;height:7px;border-radius:50%;background:#26e4a8"></div>
<div class="t" id="lg_Kids" style="left:364.5px;top:940.67px;font-size:12.5px;line-height:15px;color:#a5aecb;font-weight:normal;letter-spacing:0.3px;">Kids</div>
<div class="abs" style="left:403.1px;top:945.1px;width:7px;height:7px;border-radius:50%;background:#ffa50d"></div>
<div class="t" id="lg_Elec" style="left:415.2px;top:940.67px;font-size:12.5px;line-height:15px;color:#a5aecb;font-weight:normal;letter-spacing:0.3px;">Electronics</div>
<div class="abs" style="left:289.5px;top:972.4px;width:7px;height:7px;border-radius:50%;background:#ed5444"></div>
<div class="t" id="lg_Home" style="left:301.6px;top:967.47px;font-size:12.5px;line-height:15px;color:#a5aecb;font-weight:normal;letter-spacing:0.3px;">Home &amp; Furniture</div>
<div class="card" style="left:565px;top:602px;width:1199px;height:414px"><div class="ch"></div></div>
<div class="t" id="mss" style="left:589px;top:616.81px;font-size:17px;line-height:20px;color:#1d2330;font-weight:normal;letter-spacing:0.3px;">Monthly Sales Statistics</div>
<svg class="abs" style="left:0;top:0;overflow:visible" width="1" height="1"><path d="M623.0 706 V968" stroke="#f1f1f6" stroke-width="1"/><path d="M723.1 706 V968" stroke="#f1f1f6" stroke-width="1"/><path d="M823.2 706 V968" stroke="#f1f1f6" stroke-width="1"/><path d="M923.3 706 V968" stroke="#f1f1f6" stroke-width="1"/><path d="M1023.4 706 V968" stroke="#f1f1f6" stroke-width="1"/><path d="M1123.5 706 V968" stroke="#f1f1f6" stroke-width="1"/><path d="M1223.5 706 V968" stroke="#f1f1f6" stroke-width="1"/><path d="M1323.6 706 V968" stroke="#f1f1f6" stroke-width="1"/><path d="M1423.7 706 V968" stroke="#f1f1f6" stroke-width="1"/><path d="M1523.8 706 V968" stroke="#f1f1f6" stroke-width="1"/><path d="M1623.9 706 V968" stroke="#f1f1f6" stroke-width="1"/><path d="M1724.0 706 V968" stroke="#f1f1f6" stroke-width="1"/><path d="M623 706 V968" stroke="#e3e5ee" stroke-width="1"/><defs><linearGradient id="gi" x1="0" y1="0" x2="0" y2="1"><stop offset="0" stop-color="#535ce6" stop-opacity="0.14"/><stop offset="1" stop-color="#535ce6" stop-opacity="0.0"/></linearGradient><linearGradient id="ge" x1="0" y1="0" x2="0" y2="1"><stop offset="0" stop-color="#f0506a" stop-opacity="0.12"/><stop offset="1" stop-color="#f0506a" stop-opacity="0.0"/></linearGradient></defs><path d="M623.0 902.5 C653.0 904.0 701.1 922.5 723.1 907.5 C761.1 881.6 793.7 764.9 823.2 766.0 C853.7 767.1 893.4 915.3 923.3 915.0 C953.5 914.7 994.7 760.9 1023.4 763.8 C1054.7 766.9 1084.1 907.3 1123.5 935.0 C1144.2 949.6 1193.2 906.1 1223.5 904.7 C1253.2 903.4 1301.1 939.1 1323.6 926.0 C1361.2 904.1 1392.7 789.9 1423.7 787.8 C1452.8 785.9 1496.0 917.1 1523.8 912.7 C1556.1 907.6 1592.8 758.4 1623.9 756.0 C1652.9 753.8 1694.0 855.0 1724.0 897.4 L1724 962 L623 962Z" fill="url(#gi)"/><path d="M623.0 885.0 C653.0 898.3 692.6 928.1 723.1 929.4 C752.7 930.6 798.4 911.9 823.2 893.4 C858.4 867.1 889.2 789.6 923.3 780.0 C949.2 772.7 994.0 818.8 1023.4 837.0 C1054.0 856.0 1095.4 907.6 1123.5 903.8 C1155.5 899.4 1193.8 809.1 1223.5 809.7 C1253.9 810.3 1288.7 893.3 1323.6 907.9 C1348.8 918.4 1399.2 908.5 1423.7 893.6 C1459.3 872.0 1493.5 787.0 1523.8 786.5 C1553.6 786.0 1589.6 865.4 1623.9 890.4 C1649.7 909.2 1694.0 919.8 1724.0 932.4 L1724 962 L623 962Z" fill="url(#ge)"/><path d="M623.0 902.5 C653.0 904.0 701.1 922.5 723.1 907.5 C761.1 881.6 793.7 764.9 823.2 766.0 C853.7 767.1 893.4 915.3 923.3 915.0 C953.5 914.7 994.7 760.9 1023.4 763.8 C1054.7 766.9 1084.1 907.3 1123.5 935.0 C1144.2 949.6 1193.2 906.1 1223.5 904.7 C1253.2 903.4 1301.1 939.1 1323.6 926.0 C1361.2 904.1 1392.7 789.9 1423.7 787.8 C1452.8 785.9 1496.0 917.1 1523.8 912.7 C1556.1 907.6 1592.8 758.4 1623.9 756.0 C1652.9 753.8 1694.0 855.0 1724.0 897.4" fill="none" stroke="#5a62e8" stroke-width="1.3"/><path d="M623.0 885.0 C653.0 898.3 692.6 928.1 723.1 929.4 C752.7 930.6 798.4 911.9 823.2 893.4 C858.4 867.1 889.2 789.6 923.3 780.0 C949.2 772.7 994.0 818.8 1023.4 837.0 C1054.0 856.0 1095.4 907.6 1123.5 903.8 C1155.5 899.4 1193.8 809.1 1223.5 809.7 C1253.9 810.3 1288.7 893.3 1323.6 907.9 C1348.8 918.4 1399.2 908.5 1423.7 893.6 C1459.3 872.0 1493.5 787.0 1523.8 786.5 C1553.6 786.0 1589.6 865.4 1623.9 890.4 C1649.7 909.2 1694.0 919.8 1724.0 932.4" fill="none" stroke="#f2506a" stroke-width="1.3"/></svg>
<div class="t" style="left:560px;width:52px;text-align:right;top:954.5px;font-size:12px;line-height:15px;color:#a5aecb">0</div>
<div class="t" style="left:560px;width:52px;text-align:right;top:903.3px;font-size:12px;line-height:15px;color:#a5aecb">40</div>
<div class="t" style="left:560px;width:52px;text-align:right;top:852.1px;font-size:12px;line-height:15px;color:#a5aecb">80</div>
<div class="t" style="left:560px;width:52px;text-align:right;top:800.9px;font-size:12px;line-height:15px;color:#a5aecb">120</div>
<div class="t" style="left:560px;width:52px;text-align:right;top:749.7px;font-size:12px;line-height:15px;color:#a5aecb">160</div>
<div class="t" style="left:560px;width:52px;text-align:right;top:698.5px;font-size:12px;line-height:15px;color:#a5aecb">200</div>
<div class="t" style="left:583.0px;width:80px;text-align:center;top:973px;font-size:12.5px;line-height:15px;color:#a5aecb;letter-spacing:0.3px">Jan</div>
<div class="t" style="left:683.1px;width:80px;text-align:center;top:973px;font-size:12.5px;line-height:15px;color:#a5aecb;letter-spacing:0.3px">Feb</div>
<div class="t" style="left:783.2px;width:80px;text-align:center;top:973px;font-size:12.5px;line-height:15px;color:#a5aecb;letter-spacing:0.3px">Mar</div>
<div class="t" style="left:883.3px;width:80px;text-align:center;top:973px;font-size:12.5px;line-height:15px;color:#a5aecb;letter-spacing:0.3px">Apr</div>
<div class="t" style="left:983.4px;width:80px;text-align:center;top:973px;font-size:12.5px;line-height:15px;color:#a5aecb;letter-spacing:0.3px">May</div>
<div class="t" style="left:1083.5px;width:80px;text-align:center;top:973px;font-size:12.5px;line-height:15px;color:#a5aecb;letter-spacing:0.3px">June</div>
<div class="t" style="left:1183.5px;width:80px;text-align:center;top:973px;font-size:12.5px;line-height:15px;color:#a5aecb;letter-spacing:0.3px">July</div>
<div class="t" style="left:1283.6px;width:80px;text-align:center;top:973px;font-size:12.5px;line-height:15px;color:#a5aecb;letter-spacing:0.3px">Aug</div>
<div class="t" style="left:1383.7px;width:80px;text-align:center;top:973px;font-size:12.5px;line-height:15px;color:#a5aecb;letter-spacing:0.3px">Sep</div>
<div class="t" style="left:1483.8px;width:80px;text-align:center;top:973px;font-size:12.5px;line-height:15px;color:#a5aecb;letter-spacing:0.3px">Oct</div>
<div class="t" style="left:1583.9px;width:80px;text-align:center;top:973px;font-size:12.5px;line-height:15px;color:#a5aecb;letter-spacing:0.3px">Nov</div>
<div class="t" style="left:1684.0px;width:80px;text-align:center;top:973px;font-size:12.5px;line-height:15px;color:#a5aecb;letter-spacing:0.3px">Dec</div>
<div class="abs" style="left:1029px;top:685px;width:41px;height:13px;border:2px solid #9195f4;background:#e9ebfb"></div>
<div class="t" id="lgi" style="left:1076px;top:684.17px;font-size:12.5px;line-height:15px;color:#a5aecb;font-weight:normal;letter-spacing:0.3px;">Total Income</div>
<div class="abs" style="left:1163px;top:685px;width:41px;height:13px;border:2px solid #f78d9b;background:#fde8eb"></div>
<div class="t" id="lge" style="left:1211px;top:684.17px;font-size:12.5px;line-height:15px;color:#a5aecb;font-weight:normal;letter-spacing:0.3px;">Total Expenses</div>
<!-- ROW 3 -->
<div class="card" style="left:156px;top:1041px;width:520px;height:246px;overflow:hidden"><svg class="abs" style="left:-157px;top:-1042px" width="1920" height="1654"><path d="M157 1257.9 C183.3 1247.4 209.5 1231.7 235.8 1231.7 C268.6 1231.7 301.4 1281.8 334.2 1281.8 C366.5 1281.8 398.9 1255.8 431.2 1238.7 C458.9 1224 486.5 1186.7 514.2 1186.7 C546.1 1186.7 577.9 1271.9 609.8 1271.9 C631.4 1271.9 652.9 1235 676 1211.5 L676 1300 L150 1300Z" fill="#dadbf8"/><path d="M152 1259.9 L157 1257.9 C183.3 1247.4 209.5 1231.7 235.8 1231.7 C268.6 1231.7 301.4 1281.8 334.2 1281.8 C366.5 1281.8 398.9 1255.8 431.2 1238.7 C458.9 1224 486.5 1186.7 514.2 1186.7 C546.1 1186.7 577.9 1271.9 609.8 1271.9 C631.4 1271.9 652.9 1235 676 1211.5" fill="none" stroke="#4f57e3" stroke-width="2.6"/></svg></div>
<div class="t" id="ms_t" style="left:181px;top:1068.08px;font-size:14.5px;line-height:17px;color:#22283a;font-weight:normal;letter-spacing:0.45px;">Monthly Sales</div>
<div class="t" id="ms_v" style="left:181.5px;top:1092.10px;font-size:28px;line-height:34px;color:#1d2330;font-weight:normal;letter-spacing:0.9px;-webkit-text-stroke:0.25px #1d2330;">42,567</div>
<div class="t" id="ms_p" style="left:181.5px;top:1131.27px;font-size:12.5px;line-height:15px;color:#5ccf8c;font-weight:normal;letter-spacing:0.2px;">(+43%)</div>
<div class="t" id="ms_l" style="left:235px;top:1131.27px;font-size:12.5px;line-height:15px;color:#7c819b;font-weight:normal;letter-spacing:0.45px;">than Last week</div>
<svg class="abs" style="left:622px;top:1067px" width="28" height="27" viewBox="0 0 28 27"><path d="M2 7.5 H16 V10.5 H6 V23 H2Z" fill="#535ce6"/><path d="M5.5 7.5 C5.5 1.5 14 1.5 14 7.5" stroke="#535ce6" stroke-width="2.6" fill="none"/><rect x="8" y="11.5" width="19" height="14.5" rx="1.5" fill="#535ce6"/><path d="M12.5 14.5 C13 21 22 21 22.5 14.5" stroke="#fff" stroke-width="2.4" fill="none"/></svg>
<div class="card" style="left:701px;top:1041px;width:519px;height:246px"><div class="ch"></div></div>
<div class="t" id="so_t" style="left:725px;top:1056.51px;font-size:17px;line-height:20px;color:#1d2330;font-weight:normal;letter-spacing:0.3px;">Sales Overview</div>
<div class="t" id="so_Prof" style="left:725.4px;top:1118.65px;font-size:14px;line-height:17px;color:#495071;font-weight:normal;letter-spacing:0.45px;">Total Profit</div>
<div class="t" style="left:994px;width:200px;text-align:right;top:1117.9px;font-size:14px;line-height:16px;color:#8a90aa;letter-spacing:0.4px"><b style="color:#1d2330;letter-spacing:0.1px">51,234</b> (80%)</div>
<div class="abs" style="left:725px;top:1145px;width:469px;height:4px;border-radius:2px;background:#eeeff5"></div>
<div class="abs" style="left:725px;top:1145px;width:376px;height:4px;border-radius:2px;background:#535ce6"></div>
<div class="t" id="so_Inco" style="left:725.4px;top:1176.35px;font-size:14px;line-height:17px;color:#495071;font-weight:normal;letter-spacing:0.45px;">Total Income</div>
<div class="t" style="left:994px;width:200px;text-align:right;top:1175.6px;font-size:14px;line-height:16px;color:#8a90aa;letter-spacing:0.4px"><b style="color:#1d2330;letter-spacing:0.1px">12,786</b> (50%)</div>
<div class="abs" style="left:725px;top:1202px;width:469px;height:4px;border-radius:2px;background:#eeeff5"></div>
<div class="abs" style="left:725px;top:1202px;width:235px;height:4px;border-radius:2px;background:#9c4ef8"></div>
<div class="t" id="so_Expe" style="left:725.4px;top:1233.35px;font-size:14px;line-height:17px;color:#495071;font-weight:normal;letter-spacing:0.45px;">Total Expenses</div>
<div class="t" style="left:994px;width:200px;text-align:right;top:1232.6px;font-size:14px;line-height:16px;color:#8a90aa;letter-spacing:0.4px"><b style="color:#1d2330;letter-spacing:0.1px">32,167</b> (60%)</div>
<div class="abs" style="left:725px;top:1259px;width:469px;height:4px;border-radius:2px;background:#eeeff5"></div>
<div class="abs" style="left:725px;top:1259px;width:282px;height:4px;border-radius:2px;background:#26d9a0"></div>
<div class="card" style="left:1245px;top:1041px;width:519px;height:246px"></div>
<div class="t" id="bal_t" style="left:1269.2px;top:1068.08px;font-size:14.5px;line-height:17px;color:#22283a;font-weight:normal;letter-spacing:0.45px;">Your Current Balance</div>
<div class="t" id="bal_v" style="left:1269.2px;top:1092.34px;font-size:25px;line-height:30px;color:#1d2330;font-weight:normal;letter-spacing:0.5px;-webkit-text-stroke:0.25px #1d2330;">$32745.00</div>
<div class="t" id="br_Rece" style="left:1293.3px;top:1134.40px;font-size:13px;line-height:16px;color:#7d85a6;font-weight:normal;letter-spacing:0.88px;">Received Amount</div>
<div class="t" style="left:1416.8px;top:1134.40px;font-size:13px;line-height:16px;color:#7d85a6;font-weight:normal;letter-spacing:0px;">:</div>
<div class="t" style="left:1538.5px;width:200px;text-align:right;top:1134.5px;font-size:13.5px;line-height:16px;color:#495071;letter-spacing:0.3px">+ 1,50,500</div>
<div class="t" id="br_Sent" style="left:1293.3px;top:1162.50px;font-size:13px;line-height:16px;color:#7d85a6;font-weight:normal;letter-spacing:0.88px;">Sent Amount</div>
<div class="t" style="left:1386.4px;top:1162.50px;font-size:13px;line-height:16px;color:#7d85a6;font-weight:normal;letter-spacing:0px;">:</div>
<div class="t" style="left:1538.5px;width:200px;text-align:right;top:1162.6px;font-size:13.5px;line-height:16px;color:#495071;letter-spacing:0.3px">- 25,500</div>
<div class="t" id="br_Tota" style="left:1293.3px;top:1190.40px;font-size:13px;line-height:16px;color:#7d85a6;font-weight:normal;letter-spacing:0.88px;">Total Amount</div>
<div class="t" style="left:1389.7px;top:1190.40px;font-size:13px;line-height:16px;color:#7d85a6;font-weight:normal;letter-spacing:0px;">:</div>
<div class="t" style="left:1538.5px;width:200px;text-align:right;top:1190.5px;font-size:14px;line-height:16px;color:#1d2330;letter-spacing:0.3px">$ 1,00,500</div>
<svg class="abs" style="left:1269px;top:1138px" width="17" height="12" viewBox="0 0 17 12"><rect x="1" y="1" width="15" height="10" rx="1" fill="none" stroke="#7d85a6" stroke-width="1.8"/><circle cx="8.5" cy="6" r="2" fill="#7d85a6"/><path d="M1 3 H3 V1 M16 3 H14 V1 M1 9 H3 V11 M16 9 H14 V11" stroke="#7d85a6" stroke-width="1.5" fill="none"/></svg>
<svg class="abs" style="left:1269px;top:1165.5px" width="17" height="13" viewBox="0 0 17 13"><rect x="1" y="1" width="15" height="11" rx="1" fill="none" stroke="#7d85a6" stroke-width="1.6"/><path d="M1 4 H16" stroke="#7d85a6" stroke-width="1.8"/><rect x="3" y="7.5" width="2.5" height="2.5" fill="#7d85a6"/></svg>
<svg class="abs" style="left:1269px;top:1191.5px" width="17" height="17" viewBox="0 0 17 17"><path d="M8.5 0.5 L16 4.5 H1Z" fill="#7d85a6"/><path d="M1 4 H16 V5.5 H1Z M2 14 H15 V15.5 H2Z M0.5 16 H16.5" fill="#7d85a6" stroke="#7d85a6" stroke-width="0.6"/><path d="M3 6 V13.5 M6 6 V13.5 M9 6 V13.5 M12 6 V13.5 M14.5 6 V13.5" stroke="#7d85a6" stroke-width="1.5"/></svg>
<div class="abs" style="left:1269px;top:1225px;width:223px;height:38px;border-radius:4px;background:#5159e0"></div>
<div class="t" style="left:1269px;width:223px;text-align:center;top:1236px;font-size:14.5px;line-height:16px;color:#fff;letter-spacing:0.4px">Transfer</div>
<div class="abs" style="left:1516px;top:1225px;width:223px;height:38px;border-radius:4px;background:#9e4ff8"></div>
<div class="t" style="left:1516px;width:223px;text-align:center;top:1236px;font-size:14.5px;line-height:16px;color:#fff;letter-spacing:0.4px">Receive</div>
<!-- ROW 4 -->
<div class="card" style="left:156px;top:1312px;width:1064px;height:400px"><div class="ch" style="height:51px"></div></div>
<div class="t" id="ro_t" style="left:181px;top:1327.21px;font-size:17px;line-height:20px;color:#1d2330;font-weight:normal;letter-spacing:0.3px;">Recent Orders</div>
<div class="abs" style="left:182px;top:1577.5px;width:1012px;height:27.2px;background:#f4f6fd"></div>
<svg class="abs" style="left:0;top:0;overflow:visible" width="1" height="1"><rect x="181.5" y="1388.5" width="1013" height="400" fill="none" stroke="#e9ebf3"/><path d="M181 1426 H1195" stroke="#e9ebf3" stroke-width="1"/><path d="M181 1476.5 H1195" stroke="#e9ebf3" stroke-width="1"/><path d="M181 1527 H1195" stroke="#e9ebf3" stroke-width="1"/><path d="M181 1577.2 H1195" stroke="#e9ebf3" stroke-width="1"/><path d="M181 1627.4 H1195" stroke="#e9ebf3" stroke-width="1"/><path d="M456 1388 V1654" stroke="#e9ebf3" stroke-width="1"/><path d="M608.3 1388 V1654" stroke="#e9ebf3" stroke-width="1"/><path d="M789.4 1388 V1654" stroke="#e9ebf3" stroke-width="1"/><path d="M954.4 1388 V1654" stroke="#e9ebf3" stroke-width="1"/><path d="M1052.4 1388 V1654" stroke="#e9ebf3" stroke-width="1"/></svg>
<div class="t" id="th_CUS" style="left:193.8px;top:1399.05px;font-size:14px;line-height:17px;color:#22283a;font-weight:normal;letter-spacing:-0.25px;">CUSTOMER</div>
<div class="t" id="th_INV" style="left:469.4px;top:1399.05px;font-size:14px;line-height:17px;color:#22283a;font-weight:normal;letter-spacing:-0.25px;">INVOICE ID</div>
<div class="t" id="th_CAT" style="left:621.2px;top:1399.05px;font-size:14px;line-height:17px;color:#22283a;font-weight:normal;letter-spacing:-0.25px;">CATEGORY</div>
<div class="t" id="th_DAT" style="left:801.7px;top:1399.05px;font-size:14px;line-height:17px;color:#22283a;font-weight:normal;letter-spacing:-0.25px;">DATE</div>
<div class="t" id="th_PRI" style="left:967px;top:1399.05px;font-size:14px;line-height:17px;color:#22283a;font-weight:normal;letter-spacing:-0.25px;">PRICE</div>
<div class="t" id="th_STA" style="left:1065.3px;top:1399.05px;font-size:14px;line-height:17px;color:#22283a;font-weight:normal;letter-spacing:-0.25px;">STATUS</div>
<svg class="abs" style="left:194.0px;top:1439.3px" width="25" height="25" viewBox="0 0 40 40"><defs><clipPath id="ta0"><circle cx="20" cy="20" r="20"/></clipPath></defs><g clip-path="url(#ta0)"><rect width="40" height="40" fill="#dcd8d2"/><path d="M5 40 C6 18 9 5 20 5 C31 5 34 18 35 40Z" fill="#2b1d18"/><path d="M4 40 C6 33 12 31 20 31 C28 31 34 33 36 40Z" fill="#f2f2f2"/><rect x="17" y="26" width="6" height="7" fill="#efcdb6"/><ellipse cx="20.5" cy="19.5" rx="7" ry="9" fill="#efcdb6"/><path d="M12.5 17 C13 9 18 8 21 8 C26 8 29 11 28.5 17 C26 12 21 11 17 13 C15 14 13.5 16 12.5 17Z" fill="#2b1d18"/><path d="M9 40 C9 30 11 24 13 20 L14 30Z M31 40 C31 30 29 24 27.5 20 L26 30Z" fill="#2b1d18"/></g></svg>
<div class="t" style="left:231.6px;top:1442.78px;font-size:14.5px;line-height:17px;color:#454b6a;font-weight:normal;letter-spacing:0.4px;">Vashti Riccio</div>
<div class="t" style="left:469.4px;top:1440.68px;font-size:14.5px;line-height:17px;color:#454b6a;font-weight:normal;letter-spacing:1.1px;">#89345</div>
<div class="t" style="left:621.2px;top:1440.68px;font-size:14.5px;line-height:17px;color:#454b6a;font-weight:normal;letter-spacing:0.45px;">Sport Shoes</div>
<div class="t" style="left:801.7px;top:1440.68px;font-size:14.5px;line-height:17px;color:#454b6a;font-weight:normal;letter-spacing:0.85px;">07-02-2020</div>
<div class="t" style="left:967px;top:1440.98px;font-size:15px;line-height:17px;color:#2e3452;font-weight:normal;letter-spacing:1.0px;-webkit-text-stroke:0.15px #2e3452;">$893</div>
<div class="abs" style="left:1065.3px;top:1441.5px;width:51px;height:17.5px;border-radius:3px;background:#f34a4a;color:#fff;font-size:10.5px;line-height:17.5px;text-align:center;font-weight:bold;letter-spacing:-0.1px">Pending</div>
<svg class="abs" style="left:194.0px;top:1489.5px" width="25" height="25" viewBox="0 0 40 40"><defs><clipPath id="ta1"><circle cx="20" cy="20" r="20"/></clipPath></defs><g clip-path="url(#ta1)"><rect width="40" height="40" fill="#ec8aa1"/><path d="M5 40 C6 18 9 5 20 5 C31 5 34 18 35 40Z" fill="#3a2320"/><path d="M4 40 C6 33 12 31 20 31 C28 31 34 33 36 40Z" fill="#dfe7f5"/><rect x="17" y="26" width="6" height="7" fill="#f3cdb5"/><ellipse cx="20.5" cy="19.5" rx="7" ry="9" fill="#f3cdb5"/><path d="M12.5 17 C13 9 18 8 21 8 C26 8 29 11 28.5 17 C26 12 21 11 17 13 C15 14 13.5 16 12.5 17Z" fill="#3a2320"/><path d="M9 40 C9 30 11 24 13 20 L14 30Z M31 40 C31 30 29 24 27.5 20 L26 30Z" fill="#3a2320"/></g></svg>
<div class="t" style="left:231.6px;top:1492.93px;font-size:14.5px;line-height:17px;color:#454b6a;font-weight:normal;letter-spacing:0.4px;">Harriett Lauver</div>
<div class="t" style="left:469.4px;top:1490.83px;font-size:14.5px;line-height:17px;color:#454b6a;font-weight:normal;letter-spacing:1.1px;">#39281</div>
<div class="t" style="left:621.2px;top:1490.83px;font-size:14.5px;line-height:17px;color:#454b6a;font-weight:normal;letter-spacing:0.45px;">T-Shirt</div>
<div class="t" style="left:801.7px;top:1490.83px;font-size:14.5px;line-height:17px;color:#454b6a;font-weight:normal;letter-spacing:0.85px;">12-01-2020</div>
<div class="t" style="left:967px;top:1491.13px;font-size:15px;line-height:17px;color:#2e3452;font-weight:normal;letter-spacing:1.0px;-webkit-text-stroke:0.15px #2e3452;">$254</div>
<div class="abs" style="left:1065.3px;top:1491.7px;width:58px;height:17.5px;border-radius:3px;background:#5158e0;color:#fff;font-size:10.5px;line-height:17.5px;text-align:center;font-weight:bold;letter-spacing:-0.1px">Delivered</div>
<svg class="abs" style="left:194.0px;top:1539.6px" width="25" height="25" viewBox="0 0 40 40"><defs><clipPath id="ta2"><circle cx="20" cy="20" r="20"/></clipPath></defs><g clip-path="url(#ta2)"><rect width="40" height="40" fill="#2b2b2b"/><path d="M3 40 C5 32 12 30 20 30 C28 30 35 32 37 40Z" fill="#3a3a3a"/><rect x="16.5" y="25" width="7" height="7" fill="#c99a7d"/><ellipse cx="20" cy="19" rx="7.5" ry="9.5" fill="#c99a7d"/><path d="M12 16 C11 8 16 5.5 20.5 5.5 C26 5.5 29.5 8.5 28 16 C26 11.5 23 10.5 20 10.5 C16 10.5 13.5 12 12 16Z" fill="#141414"/></g></svg>
<div class="t" style="left:231.6px;top:1543.08px;font-size:14.5px;line-height:17px;color:#454b6a;font-weight:normal;letter-spacing:0.4px;">Darci Faw</div>
<div class="t" style="left:469.4px;top:1540.98px;font-size:14.5px;line-height:17px;color:#454b6a;font-weight:normal;letter-spacing:1.1px;">#35825</div>
<div class="t" style="left:621.2px;top:1540.98px;font-size:14.5px;line-height:17px;color:#454b6a;font-weight:normal;letter-spacing:0.45px;">Hand Bag</div>
<div class="t" style="left:801.7px;top:1540.98px;font-size:14.5px;line-height:17px;color:#454b6a;font-weight:normal;letter-spacing:0.85px;">15-01-2020</div>
<div class="t" style="left:967px;top:1541.28px;font-size:15px;line-height:17px;color:#2e3452;font-weight:normal;letter-spacing:1.0px;-webkit-text-stroke:0.15px #2e3452;">$352</div>
<div class="abs" style="left:1065.3px;top:1541.8px;width:58px;height:17.5px;border-radius:3px;background:#5158e0;color:#fff;font-size:10.5px;line-height:17.5px;text-align:center;font-weight:bold;letter-spacing:-0.1px">Delivered</div>
<svg class="abs" style="left:194.0px;top:1589.8px" width="25" height="25" viewBox="0 0 40 40"><defs><clipPath id="ta3"><circle cx="20" cy="20" r="20"/></clipPath></defs><g clip-path="url(#ta3)"><rect width="40" height="40" fill="#eaa0a6"/><path d="M5 40 C6 18 9 5 20 5 C31 5 34 18 35 40Z" fill="#9a5a2a"/><path d="M4 40 C6 33 12 31 20 31 C28 31 34 33 36 40Z" fill="#f4f4f4"/><rect x="17" y="26" width="6" height="7" fill="#f2cfb6"/><ellipse cx="20.5" cy="19.5" rx="7" ry="9" fill="#f2cfb6"/><path d="M12.5 17 C13 9 18 8 21 8 C26 8 29 11 28.5 17 C26 12 21 11 17 13 C15 14 13.5 16 12.5 17Z" fill="#9a5a2a"/><path d="M9 40 C9 30 11 24 13 20 L14 30Z M31 40 C31 30 29 24 27.5 20 L26 30Z" fill="#9a5a2a"/></g></svg>
<div class="t" style="left:231.6px;top:1593.23px;font-size:14.5px;line-height:17px;color:#454b6a;font-weight:normal;letter-spacing:0.4px;">Jamie Norville</div>
<div class="t" style="left:469.4px;top:1591.13px;font-size:14.5px;line-height:17px;color:#454b6a;font-weight:normal;letter-spacing:1.1px;">#62391</div>
<div class="t" style="left:621.2px;top:1591.13px;font-size:14.5px;line-height:17px;color:#454b6a;font-weight:normal;letter-spacing:0.45px;">Lather Watch</div>
<div class="t" style="left:801.7px;top:1591.13px;font-size:14.5px;line-height:17px;color:#454b6a;font-weight:normal;letter-spacing:0.85px;">10-01-2020</div>
<div class="t" style="left:967px;top:1591.43px;font-size:15px;line-height:17px;color:#2e3452;font-weight:normal;letter-spacing:1.0px;-webkit-text-stroke:0.15px #2e3452;">$643</div>
<div class="abs" style="left:1065.3px;top:1592.0px;width:51px;height:17.5px;border-radius:3px;background:#f34a4a;color:#fff;font-size:10.5px;line-height:17.5px;text-align:center;font-weight:bold;letter-spacing:-0.1px">Pending</div>
<svg class="abs" style="left:194.0px;top:1639.9px" width="25" height="25" viewBox="0 0 40 40"><defs><clipPath id="ta4"><circle cx="20" cy="20" r="20"/></clipPath></defs><g clip-path="url(#ta4)"><rect width="40" height="40" fill="#4d5e55"/><path d="M3 40 C5 32 12 30 20 30 C28 30 35 32 37 40Z" fill="#e8e8e8"/><rect x="16.5" y="25" width="7" height="7" fill="#dcb79e"/><ellipse cx="20" cy="19" rx="7.5" ry="9.5" fill="#dcb79e"/><path d="M12 16 C11 8 16 5.5 20.5 5.5 C26 5.5 29.5 8.5 28 16 C26 11.5 23 10.5 20 10.5 C16 10.5 13.5 12 12 16Z" fill="#1e1e1e"/></g></svg>
<div class="t" style="left:231.6px;top:1643.38px;font-size:14.5px;line-height:17px;color:#454b6a;font-weight:normal;letter-spacing:0.4px;">Danae Kaba</div>
<div class="t" style="left:469.4px;top:1641.28px;font-size:14.5px;line-height:17px;color:#454b6a;font-weight:normal;letter-spacing:1.1px;">#92481</div>
<div class="t" style="left:621.2px;top:1641.28px;font-size:14.5px;line-height:17px;color:#454b6a;font-weight:normal;letter-spacing:0.45px;">Laptop</div>
<div class="t" style="left:801.7px;top:1641.28px;font-size:14.5px;line-height:17px;color:#454b6a;font-weight:normal;letter-spacing:0.85px;">07-01-2020</div>
<div class="t" style="left:967px;top:1641.58px;font-size:15px;line-height:17px;color:#2e3452;font-weight:normal;letter-spacing:1.0px;-webkit-text-stroke:0.15px #2e3452;">$392</div>
<div class="abs" style="left:1065.3px;top:1642.1px;width:67px;height:17.5px;border-radius:3px;background:#5158e0;color:#fff;font-size:10.5px;line-height:17.5px;text-align:center;font-weight:bold;letter-spacing:-0.1px">Completed</div>
<div class="card" style="left:1245px;top:1312px;width:519px;height:400px"><div class="ch" style="height:51px"></div></div>
<div class="t" id="ra_t" style="left:1269.2px;top:1327.21px;font-size:17px;line-height:20px;color:#1d2330;font-weight:normal;letter-spacing:0.3px;">Recent Activity</div>
<div class="abs" style="left:1285.5px;top:1410px;width:1px;height:250px;background:#e6e8f0"></div>
<svg class="abs" style="left:1266.0px;top:1380.1px" width="40" height="40" viewBox="0 0 40 40"><defs><clipPath id="ra0"><circle cx="20" cy="20" r="20"/></clipPath></defs><g clip-path="url(#ra0)"><rect width="40" height="40" fill="#a88565"/><path d="M5 40 C6 18 9 5 20 5 C31 5 34 18 35 40Z" fill="#3d2418"/><path d="M4 40 C6 33 12 31 20 31 C28 31 34 33 36 40Z" fill="#8fbf9a"/><rect x="17" y="26" width="6" height="7" fill="#e9b99b"/><ellipse cx="20.5" cy="19.5" rx="7" ry="9" fill="#e9b99b"/><path d="M12.5 17 C13 9 18 8 21 8 C26 8 29 11 28.5 17 C26 12 21 11 17 13 C15 14 13.5 16 12.5 17Z" fill="#3d2418"/><path d="M9 40 C9 30 11 24 13 20 L14 30Z M31 40 C31 30 29 24 27.5 20 L26 30Z" fill="#3d2418"/></g></svg>
<div class="t" id="rat0" style="left:1324px;top:1386.88px;font-size:14.5px;line-height:17px;color:#3d4460;font-weight:normal;letter-spacing:0.25px;">Successful Purchase</div>
<div class="t" id="ras0" style="left:1324px;top:1407.12px;font-size:11.5px;line-height:14px;color:#8e94ad;font-weight:normal;letter-spacing:0.35px;">Order ID: #4567</div>
<div class="t" style="left:1538.5px;width:200px;text-align:right;top:1388.9px;font-size:12.5px;line-height:15px;color:#7e84a3;letter-spacing:0.3px">29 Mar 2020</div>
<svg class="abs" style="left:1266.0px;top:1440.5px" width="40" height="40" viewBox="0 0 40 40"><defs><clipPath id="ra1"><circle cx="20" cy="20" r="20"/></clipPath></defs><g clip-path="url(#ra1)"><rect width="40" height="40" fill="#8c8c8c"/><path d="M5 40 C6 18 9 5 20 5 C31 5 34 18 35 40Z" fill="#231a16"/><path d="M4 40 C6 33 12 31 20 31 C28 31 34 33 36 40Z" fill="#f4f4f4"/><rect x="17" y="26" width="6" height="7" fill="#f1d0bd"/><ellipse cx="20.5" cy="19.5" rx="7" ry="9" fill="#f1d0bd"/><path d="M12.5 17 C13 9 18 8 21 8 C26 8 29 11 28.5 17 C26 12 21 11 17 13 C15 14 13.5 16 12.5 17Z" fill="#231a16"/><path d="M9 40 C9 30 11 24 13 20 L14 30Z M31 40 C31 30 29 24 27.5 20 L26 30Z" fill="#231a16"/></g></svg>
<div class="t" id="rat1" style="left:1324px;top:1447.28px;font-size:14.5px;line-height:17px;color:#3d4460;font-weight:normal;letter-spacing:0.25px;">New Registered Seller</div>
<div class="t" id="ras1" style="left:1324px;top:1467.52px;font-size:11.5px;line-height:14px;color:#8e94ad;font-weight:normal;letter-spacing:0.35px;">User ID: #8976</div>
<div class="t" style="left:1538.5px;width:200px;text-align:right;top:1449.3px;font-size:12.5px;line-height:15px;color:#7e84a3;letter-spacing:0.3px">25 Mar 2020</div>
<div class="abs" style="left:1266px;top:1500.9px;width:40px;height:40px;border-radius:50%;background:#ea3d7b;color:#fff;font-weight:bold;font-size:15px;line-height:40px;text-align:center">H</div>
<div class="t" id="rat2" style="left:1324px;top:1507.68px;font-size:14.5px;line-height:17px;color:#3d4460;font-weight:normal;letter-spacing:0.25px;">Order Verification</div>
<div class="t" id="ras2" style="left:1324px;top:1527.92px;font-size:11.5px;line-height:14px;color:#8e94ad;font-weight:normal;letter-spacing:0.35px;">Order ID: #6290</div>
<div class="t" style="left:1538.5px;width:200px;text-align:right;top:1509.7px;font-size:12.5px;line-height:15px;color:#7e84a3;letter-spacing:0.3px">14 Feb 2020</div>
<svg class="abs" style="left:1266.0px;top:1561.3px" width="40" height="40" viewBox="0 0 40 40"><defs><clipPath id="ra3"><circle cx="20" cy="20" r="20"/></clipPath></defs><g clip-path="url(#ra3)"><rect width="40" height="40" fill="#7b7b7b"/><path d="M3 40 C5 32 12 30 20 30 C28 30 35 32 37 40Z" fill="#dfe3e6"/><rect x="16.5" y="25" width="7" height="7" fill="#d8a283"/><ellipse cx="20" cy="19" rx="7.5" ry="9.5" fill="#d8a283"/><path d="M12 16 C11 8 16 5.5 20.5 5.5 C26 5.5 29.5 8.5 28 16 C26 11.5 23 10.5 20 10.5 C16 10.5 13.5 12 12 16Z" fill="#1f1a17"/></g></svg>
<div class="t" id="rat3" style="left:1324px;top:1568.08px;font-size:14.5px;line-height:17px;color:#3d4460;font-weight:normal;letter-spacing:0.25px;">New Item Added</div>
<div class="t" id="ras3" style="left:1324px;top:1588.32px;font-size:11.5px;line-height:14px;color:#8e94ad;font-weight:normal;letter-spacing:0.35px;">Item ID: #0235</div>
<div class="t" style="left:1538.5px;width:200px;text-align:right;top:1570.1px;font-size:12.5px;line-height:15px;color:#7e84a3;letter-spacing:0.3px">02 Feb 2020</div>
<svg class="abs" style="left:1266.0px;top:1621.7px" width="40" height="40" viewBox="0 0 40 40"><defs><clipPath id="ra4"><circle cx="20" cy="20" r="20"/></clipPath></defs><g clip-path="url(#ra4)"><rect width="40" height="40" fill="#2f3d3a"/><path d="M3 40 C5 32 12 30 20 30 C28 30 35 32 37 40Z" fill="#2a2f35"/><rect x="16.5" y="25" width="7" height="7" fill="#e8bfa0"/><ellipse cx="20" cy="19" rx="7.5" ry="9.5" fill="#e8bfa0"/><path d="M12 16 C11 8 16 5.5 20.5 5.5 C26 5.5 29.5 8.5 28 16 C26 11.5 23 10.5 20 10.5 C16 10.5 13.5 12 12 16Z" fill="#8a6a45"/></g></svg>
<div class="t" id="rat4" style="left:1324px;top:1628.48px;font-size:14.5px;line-height:17px;color:#3d4460;font-weight:normal;letter-spacing:0.25px;">Purchase Cancellation</div>
<div class="t" id="ras4" style="left:1324px;top:1648.72px;font-size:11.5px;line-height:14px;color:#8e94ad;font-weight:normal;letter-spacing:0.35px;">Order ID: #1265</div>
<div class="t" style="left:1538.5px;width:200px;text-align:right;top:1630.5px;font-size:12.5px;line-height:15px;color:#7e84a3;letter-spacing:0.3px">28 Jan 2020</div>
<div class="abs" style="left:1906px;top:118px;width:14px;height:1536px;background:linear-gradient(90deg,rgba(180,180,200,0) 0%,rgba(180,180,200,0.12) 100%)"></div>
</body></html>
